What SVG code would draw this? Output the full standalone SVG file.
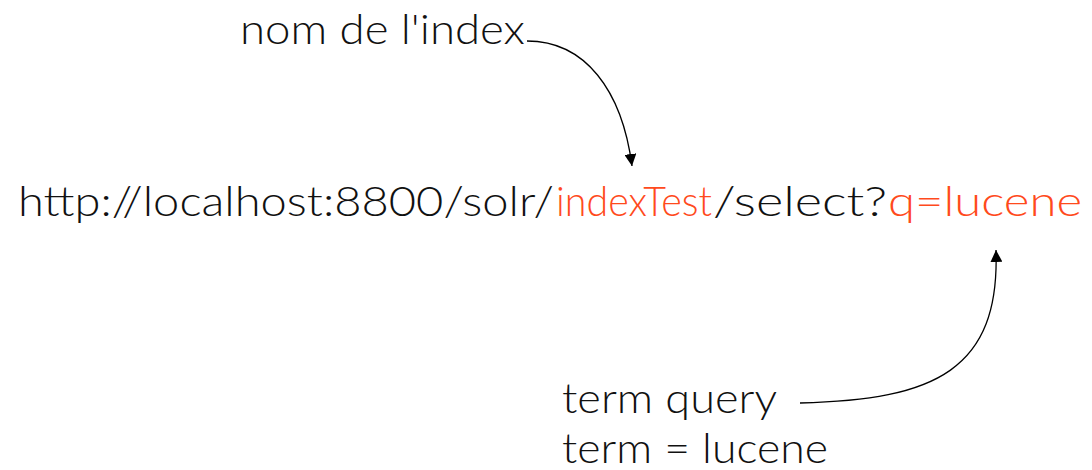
<svg xmlns="http://www.w3.org/2000/svg" width="1092" height="470" viewBox="0 0 1092 470">
<style>
.t{font-family:"Lato","Open Sans",sans-serif;font-size:41px;font-weight:300;fill:#111}
.o{fill:#ff4a1c}
.c{fill:none;stroke:#000;stroke-width:1.3}
</style>
<defs>
<marker id="ah" viewBox="0 0 10 10" refX="10" refY="5" markerWidth="12" markerHeight="12" markerUnits="userSpaceOnUse" orient="auto">
<path d="M0,0 L10,5 L0,10 z" fill="#000"/>
</marker>
</defs>
<rect width="1092" height="470" fill="#fff"/>
<g id="url">
<text class="t" y="216"><tspan x="18" textLength="536" lengthAdjust="spacingAndGlyphs">http://localhost:8800/solr/</tspan><tspan class="o" x="556" textLength="156" lengthAdjust="spacingAndGlyphs">indexTest</tspan><tspan x="713" textLength="174" lengthAdjust="spacingAndGlyphs">/select?</tspan><tspan class="o" x="888" textLength="194" lengthAdjust="spacingAndGlyphs">q=lucene</tspan></text>
</g>
<g id="label-index">
<text class="t" x="240" y="44" textLength="285" lengthAdjust="spacingAndGlyphs">nom de l'index</text>
</g>
<g id="label-term">
<text class="t" x="562" y="413" textLength="215" lengthAdjust="spacingAndGlyphs">term query</text>
<text class="t" x="562" y="463" textLength="266" lengthAdjust="spacingAndGlyphs">term = lucene</text>
</g>
<g id="connectors">
<path class="c" d="M527,41 C585,41 622,90 632,166" marker-end="url(#ah)"/>
<path class="c" d="M800,403 C935,400 1000,370 996,250" marker-end="url(#ah)"/>
</g>
</svg>
